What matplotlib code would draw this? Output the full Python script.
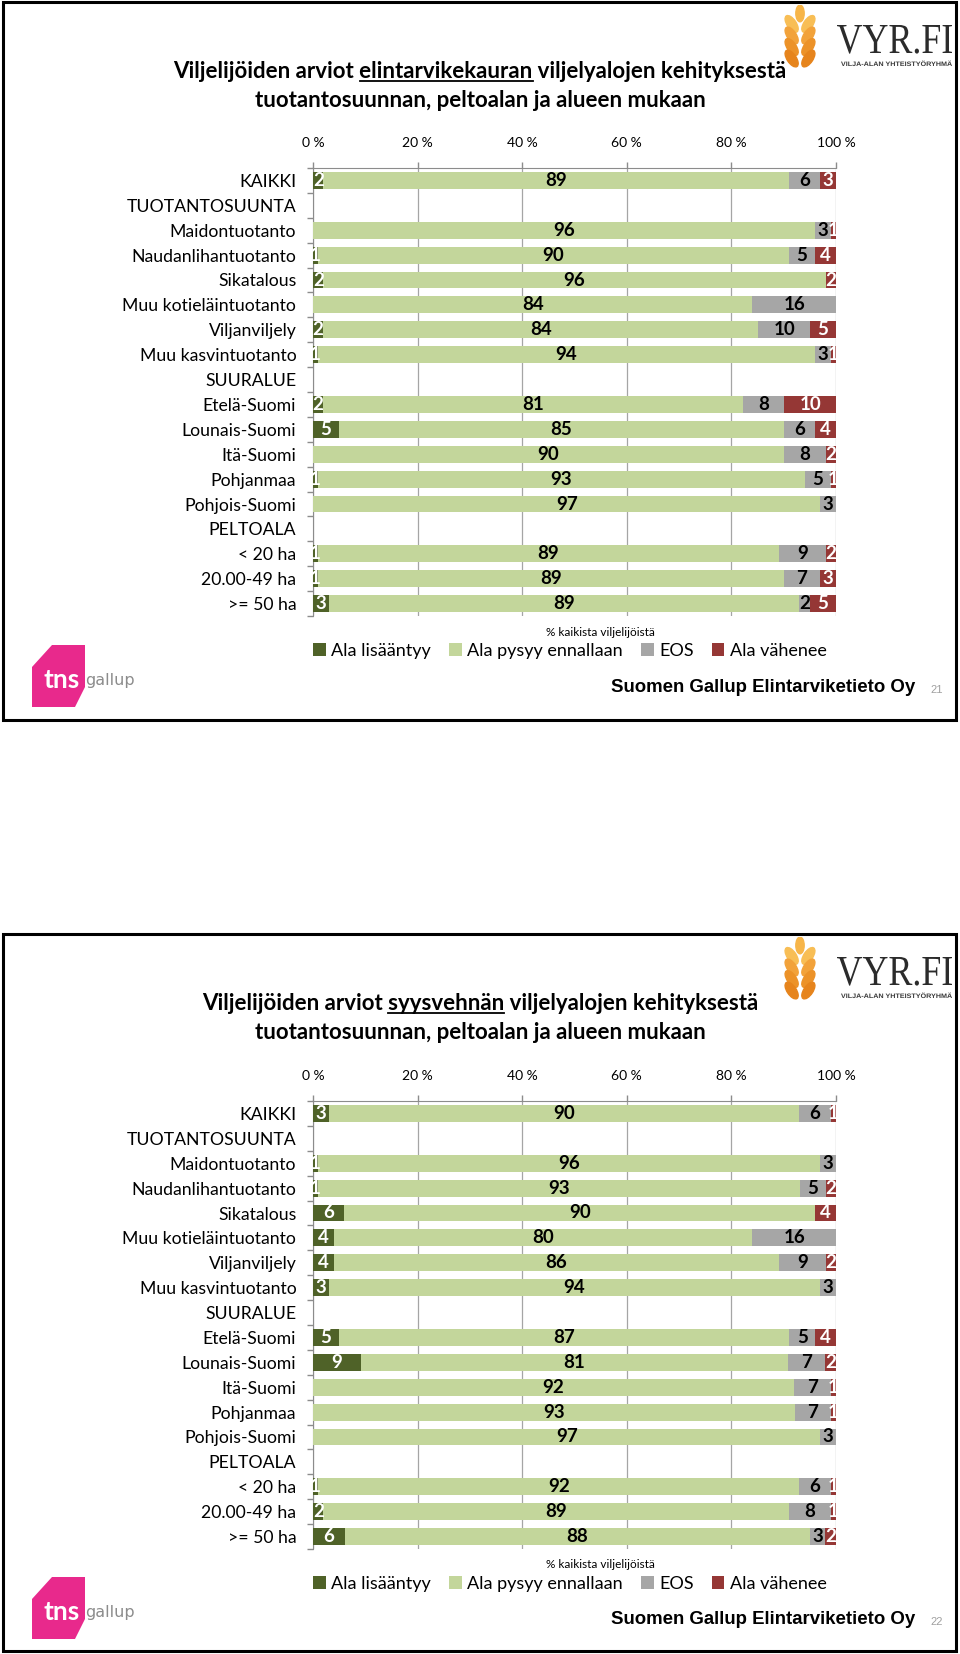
import matplotlib
matplotlib.use('Agg')
import matplotlib.pyplot as plt
from matplotlib.patches import Rectangle, Polygon, Ellipse, Patch, PathPatch
from matplotlib.lines import Line2D
from matplotlib.textpath import TextPath
from matplotlib.font_manager import FontProperties
from matplotlib.transforms import Affine2D
import numpy as np

W, H = 960, 1654

categories = ['KAIKKI', 'TUOTANTOSUUNTA', 'Maidontuotanto', 'Naudanlihantuotanto',
              'Sikatalous', 'Muu kotieläintuotanto', 'Viljanviljely', 'Muu kasvintuotanto',
              'SUURALUE', 'Etelä-Suomi', 'Lounais-Suomi', 'Itä-Suomi', 'Pohjanmaa',
              'Pohjois-Suomi', 'PELTOALA', '< 20 ha', '20.00-49 ha', '>= 50 ha']
series = ['Ala lisääntyy', 'Ala pysyy ennallaan', 'EOS', 'Ala vähenee']
colors = ['#4F6228', '#C3D69B', '#A6A6A6', '#953735']
label_colors = ['white', 'black', 'black', 'white']
xticks = [0, 20, 40, 60, 80, 100]

# slide 21: elintarvikekaura (header rows are all zero)
kaura_lisaantyy = [2, 0, 0, 1, 2, 0, 2, 1, 0, 2, 5, 0, 1, 0, 0, 1, 1, 3]
kaura_pysyy = [89, 0, 96, 90, 96, 84, 84, 94, 0, 81, 85, 90, 93, 97, 0, 89, 89, 89]
kaura_eos = [6, 0, 3, 5, 0, 16, 10, 3, 0, 8, 6, 8, 5, 3, 0, 9, 7, 2]
kaura_vahenee = [3, 0, 1, 4, 2, 0, 5, 1, 0, 10, 4, 2, 1, 0, 0, 2, 3, 5]

# slide 22: syysvehnä
vehna_lisaantyy = [3, 0, 1, 1, 6, 4, 4, 3, 0, 5, 9, 0, 0, 0, 0, 1, 2, 6]
vehna_pysyy = [90, 0, 96, 93, 90, 80, 86, 94, 0, 87, 81, 92, 93, 97, 0, 92, 89, 88]
vehna_eos = [6, 0, 3, 5, 0, 16, 9, 3, 0, 5, 7, 7, 7, 3, 0, 6, 8, 3]
vehna_vahenee = [1, 0, 0, 2, 4, 0, 2, 0, 0, 4, 2, 1, 1, 0, 0, 1, 1, 2]

plt.rcParams['font.family'] = ['Lato', 'DejaVu Sans']

fig = plt.figure(figsize=(9.6, 16.54), dpi=100)
renderer = fig.canvas.get_renderer()


def px(x, y):
    return x / W, 1 - y / H


def text_width(s, **kw):
    t = fig.text(0, 0, s, **kw)
    w = t.get_window_extent(renderer).width
    t.remove()
    return w


def title(y, before, word, after):
    kw = dict(fontsize=16, fontweight='bold')
    line = before + word + after
    t = fig.text(*px(480, y), line, ha='center', va='baseline', **kw)
    if not word:
        return
    bb = t.get_window_extent(renderer)
    x0 = bb.x0 + text_width(before + 'x', **kw) - text_width('x', **kw)
    x1 = x0 + text_width(word, **kw)
    yy = (H - y - 3) / H
    fig.add_artist(Line2D([x0 / W, x1 / W], [yy, yy], color='black', lw=1.3,
                          transform=fig.transFigure))


def draw_bars(ax, rows):
    n = len(categories)
    y = np.arange(n)
    vals = np.array(rows, dtype=float)
    tot = vals.sum(axis=0)
    share = np.divide(vals, tot, out=np.zeros_like(vals), where=tot > 0) * 100
    left = np.zeros(n)
    for k in range(len(series)):
        ax.barh(y, share[k], left=left, height=0.68, color=colors[k], zorder=3)
        for i in range(n):
            if vals[k, i] > 0:
                ax.text(left[i] + share[k, i] / 2, i, f'{vals[k, i]:.0f}', ha='center',
                        va='center', color=label_colors[k], fontsize=13.5,
                        fontweight='bold', zorder=4)
        left += share[k]

    ax.set_xlim(0, 100)
    ax.set_ylim(n - 0.5, -0.5)
    ax.set_yticks(y)
    ax.set_yticklabels(categories, fontsize=12.7)
    ax.set_yticks(np.arange(-0.5, n), minor=True)
    ax.tick_params(axis='y', which='major', length=0, pad=12)
    ax.tick_params(axis='y', which='minor', length=4, color='#8C8C8C', width=1)
    ax.xaxis.tick_top()
    ax.set_xticks(xticks)
    ax.set_xticklabels([f'{v} %' for v in xticks], fontsize=10)
    ax.tick_params(axis='x', length=4, color='#8C8C8C', width=1, pad=9.5)
    ax.set_axisbelow(True)
    ax.grid(axis='x', color='#A5A5A5', lw=0.9)
    for s in ['right', 'bottom']:
        ax.spines[s].set_visible(False)
    for s in ['top', 'left']:
        ax.spines[s].set_color('#8C8C8C')


def tns_logo(dy):
    pts = [(32, 667), (52, 645), (85, 645), (85, 687), (75, 707), (32, 707)]
    fig.add_artist(Polygon([px(x, y + dy) for x, y in pts], closed=True,
                           facecolor='#E8298C', edgecolor='none', transform=fig.transFigure))
    fig.text(*px(44, 680 + dy), 'tns', color='white', fontsize=19, fontweight='bold',
             va='center', ha='left')
    fig.text(*px(85, 681 + dy), 'gallup', color='#8C8C8C', fontsize=11.5, va='center',
             ha='left', family=['Liberation Sans Narrow', 'DejaVu Sans'])


def fitted_text(ax, s, x0, x1, base, cap, prop, color):
    # text drawn as a path, stretched to fill a box given in pixels
    tp = TextPath((0, 0), s, size=1, prop=prop)
    ext = tp.get_extents()
    tr = (Affine2D().translate(-ext.x0, 0)
          .scale((x1 - x0) / ext.width, -cap / ext.y1).translate(x0, base))
    ax.add_patch(PathPatch(tr.transform_path(tp), facecolor=color, edgecolor='none'))


def vyr_logo(dy):
    lax = fig.add_axes([778 / W, 1 - (68 + dy) / H, 44 / W, 63 / H])
    lax.set_xlim(-1, 1)
    lax.set_ylim(0, 3)
    lax.axis('off')
    lax.add_patch(Ellipse((0, 2.6), 0.38, 0.8, color='#F7B548'))
    for k, yy in enumerate([2.1, 1.55, 1.0, 0.45]):
        c = ['#F8BE55', '#F2A23A', '#EC9228', '#E6841C'][k]
        lax.add_patch(Ellipse((-0.38, yy), 0.42, 0.9, angle=32, color=c))
        lax.add_patch(Ellipse((0.38, yy), 0.42, 0.9, angle=-32, color=c))

    tax = fig.add_axes([0, 1 - (70 + dy) / H, 1, 70 / H])
    tax.set_xlim(0, W)
    tax.set_ylim(70 + dy, dy)
    tax.axis('off')
    fitted_text(tax, 'VYR.FI', 837, 952, 53 + dy, 28,
                FontProperties(family='Liberation Serif'), '#2B2B2B')
    fitted_text(tax, 'VILJA-ALAN YHTEISTYÖRYHMÄ', 841, 952, 66 + dy, 5.5,
                FontProperties(family='Liberation Sans', weight='bold'), '#3A3A3A')


def slide(top, bottom, ax_top, ax_bottom, word, rows, page):
    dy = top - 2
    vyr_logo(dy)
    title(78 + dy, 'Viljelijöiden arviot ', word, ' viljelyalojen kehityksestä')
    title(107 + dy, '', '', 'tuotantosuunnan, peltoalan ja alueen mukaan')

    ax = fig.add_axes([313 / W, 1 - ax_bottom / H, (836 - 313) / W, (ax_bottom - ax_top) / H])
    draw_bars(ax, rows)

    fig.text(*px(600, ax_bottom + 16), '% kaikista viljelijöistä', fontsize=8.5,
             ha='center', va='center')
    handles = [Patch(facecolor=c, edgecolor='none') for c in colors]
    fig.legend(handles, series, loc='center', bbox_to_anchor=px(570, ax_bottom + 35),
               ncol=4, frameon=False, fontsize=13, handlelength=0.7, handleheight=0.7,
               handletextpad=0.3, columnspacing=1.0)

    fig.text(*px(915, 688 + dy), 'Suomen Gallup Elintarviketieto Oy', ha='right',
             va='center', fontsize=13.4, fontweight='bold',
             family=['Liberation Sans', 'DejaVu Sans'])
    fig.text(*px(937, 690 + dy), str(page), ha='center', va='center', fontsize=8,
             color='#A0A0A0', family=['Liberation Sans', 'DejaVu Sans'])
    tns_logo(dy)

    fig.add_artist(Rectangle(px(3, bottom), 953 / W, (bottom - top) / H, fill=False,
                             edgecolor='black', lw=2.2, transform=fig.transFigure,
                             zorder=10))


slide(2, 720, 168, 616, 'elintarvikekauran',
      [kaura_lisaantyy, kaura_pysyy, kaura_eos, kaura_vahenee], 21)
slide(934, 1651, 1101, 1549, 'syysvehnän',
      [vehna_lisaantyy, vehna_pysyy, vehna_eos, vehna_vahenee], 22)

fig.savefig('out.png', dpi=100)
